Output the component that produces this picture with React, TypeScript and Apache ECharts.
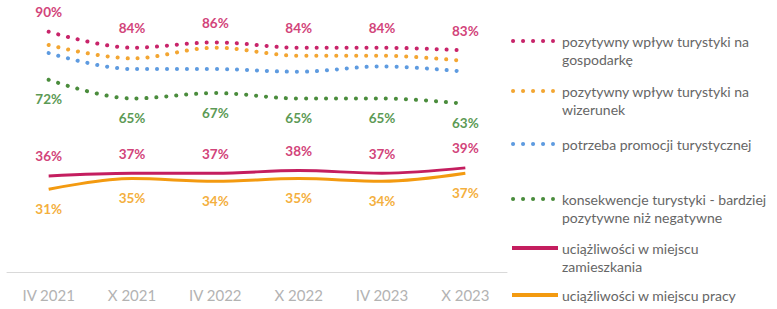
import React, { useEffect, useRef } from "react";
import * as echarts from "echarts";

const categories = ["IV 2021", "X 2021", "IV 2022", "X 2022", "IV 2023", "X 2023"];
const gospodarka = [90, 84, 86, 84, 84, 83];
const wizerunek = [85, 80, 84, 81, 81, 79];
const promocja = [82, 76, 76, 75, 77, 75];
const konsekwencje = [72, 65, 67, 65, 65, 63];
const zamieszkania = [36, 37, 37, 38, 37, 39];
const pracy = [31, 35, 34, 35, 34, 37];

const legendNames = [
  "pozytywny wpływ turystyki na\ngospodarkę",
  "pozytywny wpływ turystyki na\nwizerunek",
  "potrzeba promocji turystycznej",
  "konsekwencje turystyki - bardziej\npozytywne niż negatywne",
  "uciążliwości w miejscu\nzamieszkania",
  "uciążliwości w miejscu pracy",
];

const COLORS = {
  pink: "#c8246a",
  orange: "#f3a632",
  blue: "#5e9be0",
  green: "#4a8c3c",
  pinkSolid: "#c41e5f",
  orangeSolid: "#f39a10",
};

const LABEL = {
  pink: "#d2447a",
  green: "#5c9a55",
  orange: "#f4b03e",
};

export default function App() {
  const ref = useRef<HTMLDivElement>(null);
  useEffect(() => {
    const chart = echarts.init(ref.current!, undefined, { renderer: "svg" });
    const dotted = (color: string) => ({
      color,
      width: 4,
      type: [0.1, 9.9],
      cap: "round",
    });
    const lbl = (pos: string, color: string, show = true) => ({
      show,
      position: pos,
      distance: 12,
      formatter: "{c}%",
      color,
      fontFamily: "Lato",
      fontWeight: "bold",
      fontSize: 13.5,
    });
    const mk = (name: string, data: number[], lineStyle: any, label: any, z = 2) => ({
      name,
      type: "line",
      data,
      smooth: 0.35,
      symbol: "circle",
      symbolSize: 1,
      showSymbol: true,
      lineStyle,
      itemStyle: { color: "rgba(0,0,0,0)" },
      label,
      z,
    });

    const legendItems: any[] = [];
    const legendDefs = [
      { y: 41, color: COLORS.pink, dotted: true },
      { y: 91, color: COLORS.orange, dotted: true },
      { y: 144, color: COLORS.blue, dotted: true },
      { y: 199, color: COLORS.green, dotted: true },
      { y: 248, color: COLORS.pinkSolid, dotted: false },
      { y: 295, color: COLORS.orangeSolid, dotted: false },
    ];
    legendDefs.forEach((d, i) => {
      legendItems.push({
        type: "line",
        shape: { x1: d.dotted ? 513 : 512, y1: d.y, x2: d.dotted ? 553 : 558, y2: d.y },
        style: d.dotted
          ? { stroke: d.color, lineWidth: 4, lineDash: [0.1, 9.9], lineCap: "round" }
          : { stroke: d.color, lineWidth: 4, lineCap: "butt" },
      });
      legendItems.push({
        type: "text",
        x: 562,
        y: d.y - 9,
        style: {
          text: legendNames[i],
          fill: "#666666",
          font: "14px Lato",
          lineHeight: 18,
          textVerticalAlign: "top",
        },
      });
    });

    chart.setOption({
      animation: false,
      grid: { left: 7, right: 270, top: 5, bottom: 37 },
      xAxis: {
        type: "category",
        data: categories,
        boundaryGap: true,
        axisLine: { lineStyle: { color: "#d9d9d9", width: 1 } },
        axisTick: { show: false },
        axisLabel: { color: "#b3b3b3", fontSize: 15, fontFamily: "Lato", margin: 15 },
      },
      yAxis: {
        type: "value",
        min: 0,
        max: 100,
        show: false,
        splitLine: { show: false },
      },
      series: [
        mk(legendNames[0], gospodarka, dotted(COLORS.pink), lbl("top", LABEL.pink), 5),
        mk(legendNames[1], wizerunek, dotted(COLORS.orange), lbl("top", LABEL.orange, false), 4),
        mk(legendNames[2], promocja, dotted(COLORS.blue), lbl("top", LABEL.pink, false), 3),
        mk(legendNames[3], konsekwencje, dotted(COLORS.green), lbl("bottom", LABEL.green), 2),
        mk(legendNames[4], zamieszkania, { color: COLORS.pinkSolid, width: 3 }, lbl("top", LABEL.pink), 3),
        mk(legendNames[5], pracy, { color: COLORS.orangeSolid, width: 3 }, lbl("bottom", LABEL.orange), 2),
      ],
      graphic: { elements: legendItems },
    });
    return () => chart.dispose();
  }, []);
  return <div ref={ref} style={{ width: 777, height: 309, position: "absolute", left: 0, top: 0, background: "#fff" }} />;
}
